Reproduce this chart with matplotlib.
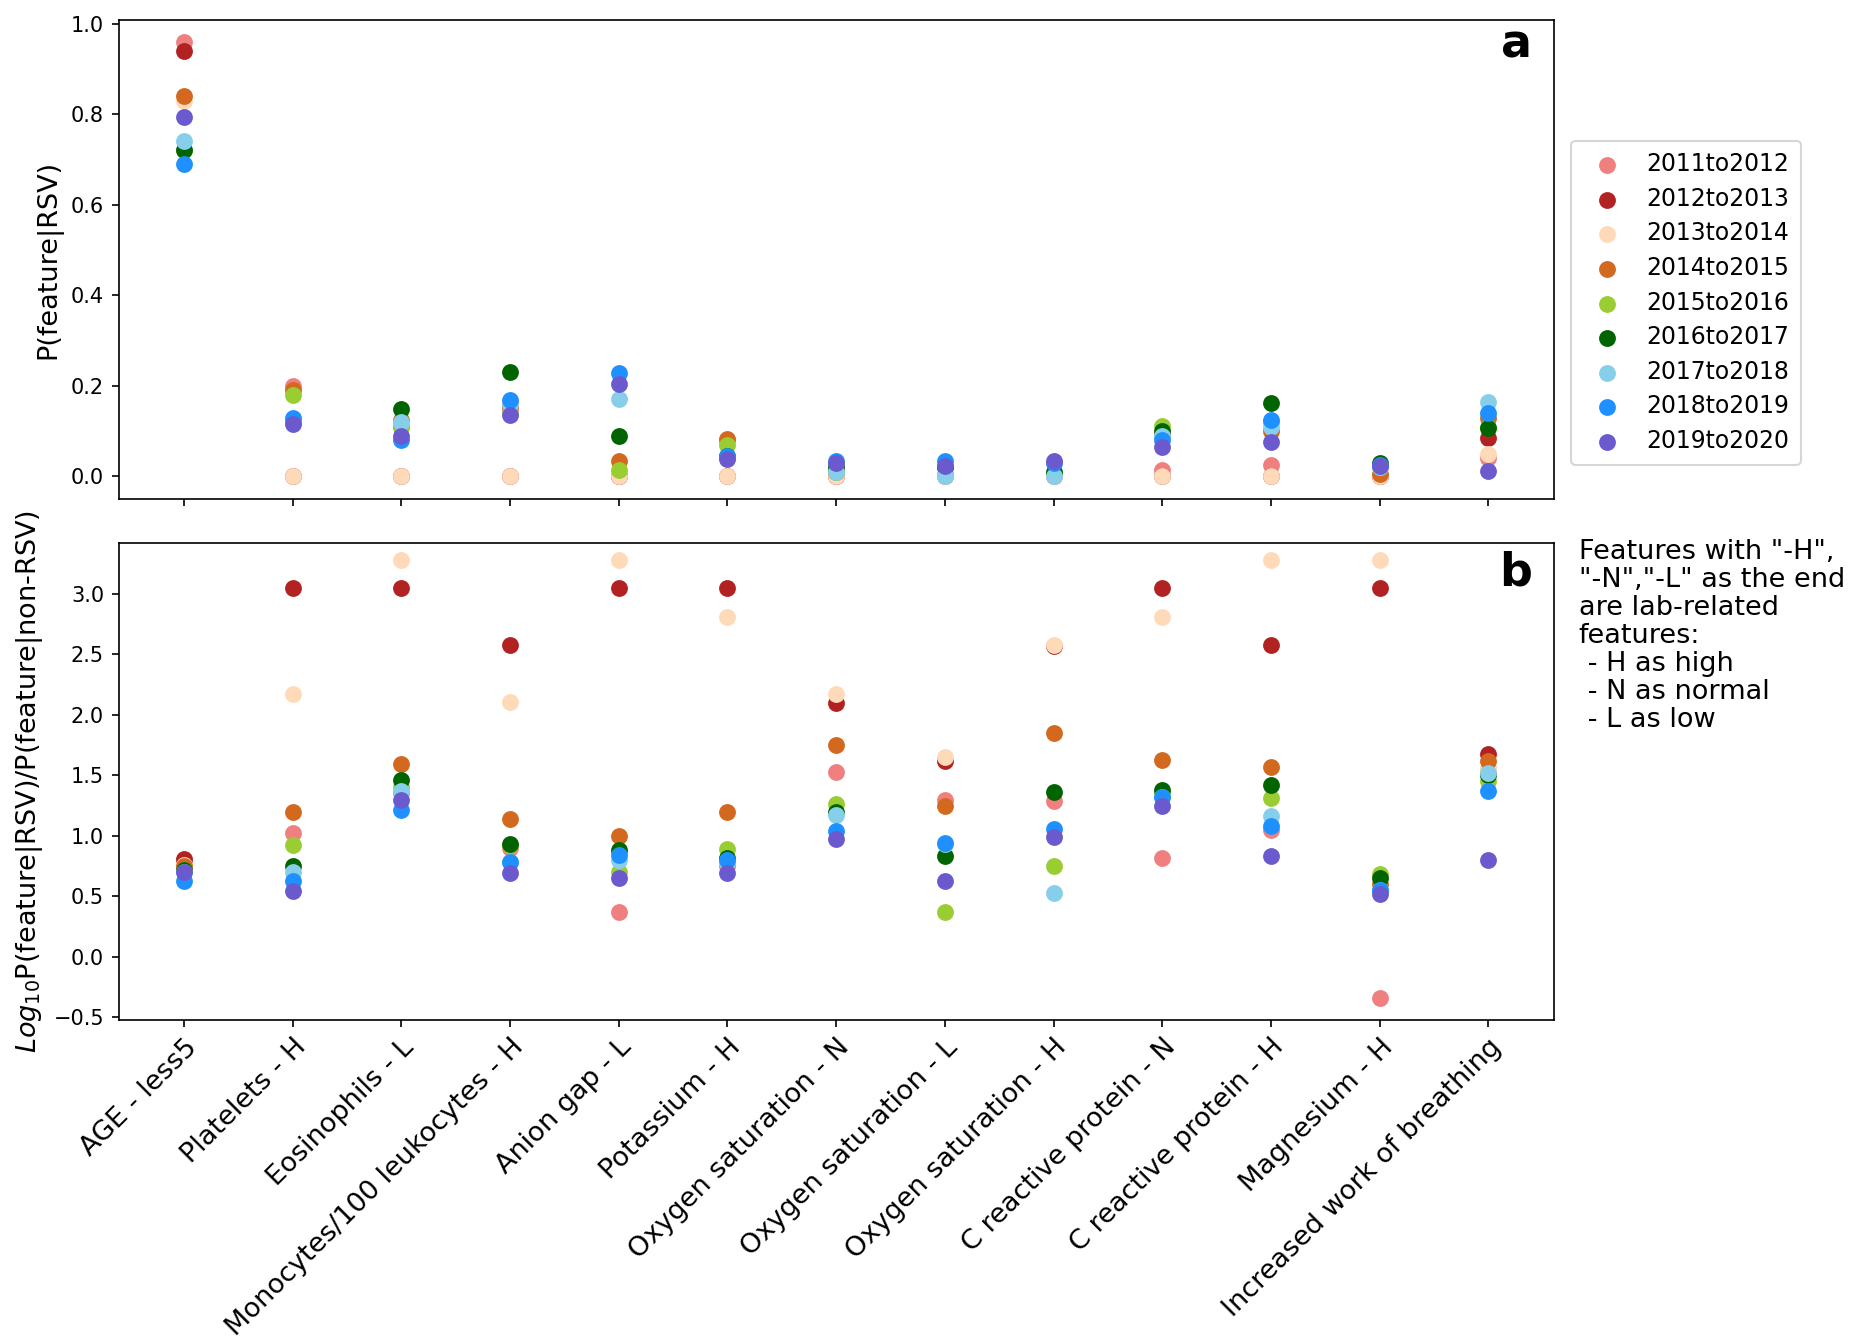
import matplotlib
matplotlib.use("Agg")
import matplotlib.pyplot as plt
import numpy as np

# Ozellikler (x ekseni)
features = ["AGE - less5", "Platelets - H", "Eosinophils - L",
            "Monocytes/100 leukocytes - H", "Anion gap - L", "Potassium - H",
            "Oxygen saturation - N", "Oxygen saturation - L", "Oxygen saturation - H",
            "C reactive protein - N", "C reactive protein - H", "Magnesium - H",
            "Increased work of breathing"]

seasons = ["2011to2012", "2012to2013", "2013to2014", "2014to2015", "2015to2016",
           "2016to2017", "2017to2018", "2018to2019", "2019to2020"]

colors = ["lightcoral", "firebrick", "peachpuff", "chocolate", "yellowgreen",
          "darkgreen", "skyblue", "dodgerblue", "slateblue"]

# Panel a: P(feature|RSV), her sezon icin bir liste
p_2011 = [0.96, 0.20, 0.11, 0.15, 0.00, 0.08, 0.00, 0.00, 0.00, 0.015, 0.025, 0.00, 0.04]
p_2012 = [0.94, 0.00, 0.00, 0.00, 0.00, 0.00, 0.00, 0.00, 0.00, 0.00, 0.00, 0.00, 0.085]
p_2013 = [0.83, 0.00, 0.00, 0.00, 0.00, 0.00, 0.00, 0.00, 0.00, 0.00, 0.00, 0.00, 0.05]
p_2014 = [0.84, 0.19, 0.125, 0.155, 0.035, 0.082, 0.01, 0.02, 0.005, 0.09, 0.10, 0.005, 0.13]
p_2015 = [0.72, 0.18, 0.11, 0.14, 0.015, 0.07, 0.01, 0.005, 0.005, 0.112, 0.12, 0.02, 0.11]
p_2016 = [0.72, 0.12, 0.148, 0.23, 0.09, 0.045, 0.02, 0.02, 0.01, 0.10, 0.163, 0.03, 0.108]
p_2017 = [0.74, 0.12, 0.12, 0.16, 0.17, 0.04, 0.01, 0.00, 0.00, 0.09, 0.11, 0.02, 0.165]
p_2018 = [0.69, 0.13, 0.08, 0.168, 0.228, 0.045, 0.035, 0.035, 0.03, 0.08, 0.125, 0.025, 0.14]
p_2019 = [0.795, 0.115, 0.09, 0.135, 0.205, 0.038, 0.03, 0.022, 0.033, 0.065, 0.075, 0.022, 0.012]

# Panel b: log10 P(feature|RSV)/P(feature|non-RSV)
r_2011 = [0.80, 1.02, 1.35, 0.90, 0.37, 0.75, 1.53, 1.30, 1.29, 0.82, 1.05, -0.34, 1.55]
r_2012 = [0.81, 3.05, 3.05, 2.58, 3.05, 3.05, 2.10, 1.62, 2.57, 3.05, 2.58, 3.05, 1.68]
r_2013 = [0.76, 2.17, 3.28, 2.11, 3.28, 2.81, 2.17, 1.65, 2.58, 2.81, 3.28, 3.28, 1.55]
r_2014 = [0.75, 1.20, 1.59, 1.14, 1.00, 1.20, 1.75, 1.25, 1.85, 1.63, 1.57, 0.60, 1.62]
r_2015 = [0.72, 0.92, 1.40, 0.92, 0.70, 0.89, 1.26, 0.37, 0.75, 1.35, 1.31, 0.68, 1.45]
r_2016 = [0.72, 0.75, 1.46, 0.93, 0.88, 0.82, 1.20, 0.83, 1.36, 1.38, 1.42, 0.65, 1.50]
r_2017 = [0.70, 0.70, 1.37, 0.78, 0.80, 0.78, 1.17, 0.93, 0.53, 1.32, 1.16, 0.55, 1.52]
r_2018 = [0.63, 0.63, 1.21, 0.78, 0.84, 0.80, 1.04, 0.94, 1.06, 1.32, 1.08, 0.55, 1.37]
r_2019 = [0.70, 0.54, 1.30, 0.69, 0.65, 0.69, 0.97, 0.63, 0.99, 1.25, 0.83, 0.52, 0.80]

p_all = [p_2011, p_2012, p_2013, p_2014, p_2015, p_2016, p_2017, p_2018, p_2019]
r_all = [r_2011, r_2012, r_2013, r_2014, r_2015, r_2016, r_2017, r_2018, r_2019]

fig = plt.figure(figsize=(12.353, 8.92), dpi=150)
ax_a = fig.add_axes([0.064, 0.627, 0.7745, 0.358])
ax_b = fig.add_axes([0.064, 0.238, 0.7745, 0.356], sharex=ax_a)

x = np.arange(len(features))
for season, col, pv, rv in zip(seasons, colors, p_all, r_all):
    ax_a.scatter(x, pv, s=50, color=col, label=season, zorder=3)
    ax_b.scatter(x, rv, s=50, color=col, zorder=3)

ax_a.set_xlim(-0.6, len(features) - 0.4)
ax_a.set_ylim(-0.05, 1.008)
ax_b.set_ylim(-0.52, 3.42)

ax_a.set_xticks(x)
ax_a.tick_params(axis="x", labelbottom=False)
ax_b.set_xticklabels(features, rotation=45, ha="right", rotation_mode="anchor", fontsize=13)
ax_a.tick_params(axis="y", labelsize=10)
ax_b.tick_params(axis="y", labelsize=10)

ax_a.set_ylabel("P(feature|RSV)", fontsize=13)
ax_b.set_ylabel("$Log_{10}$P(feature|RSV)/P(feature|non-RSV)", fontsize=13)

ax_a.text(0.985, 0.995, "a", transform=ax_a.transAxes, ha="right", va="top",
          fontsize=22, fontweight="bold")
ax_b.text(0.985, 0.985, "b", transform=ax_b.transAxes, ha="right", va="top",
          fontsize=22, fontweight="bold")

ax_a.legend(loc="center left", bbox_to_anchor=(1.004, 0.41), fontsize=11.3,
            handletextpad=0.7, borderpad=0.5, labelspacing=0.45)

fig.text(0.852, 0.597,
         'Features with "-H",\n"-N","-L" as the end\nare lab-related\nfeatures:\n - H as high\n - N as normal\n - L as low',
         ha="left", va="top", fontsize=13, linespacing=1.1)

fig.savefig("out.png", dpi=150)
